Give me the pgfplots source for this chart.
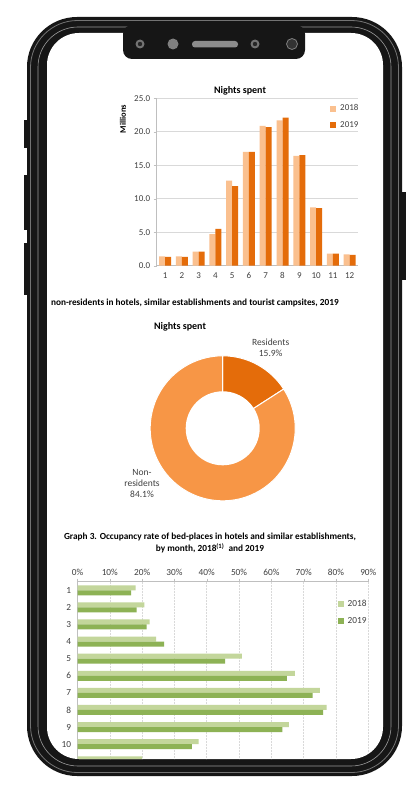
\documentclass[border=0pt]{standalone}
\usepackage{fontspec}
\setmainfont{Carlito}
\usepackage{pgfplots}
\usepackage{pgfplotstable}
\pgfplotsset{compat=1.18}
\definecolor{o18}{HTML}{FAC08F}
\definecolor{o19}{HTML}{E46C0A}
\definecolor{nonres}{HTML}{F79646}
\definecolor{g18}{HTML}{C3D69B}
\definecolor{g19}{HTML}{8DB255}
\definecolor{gridc}{HTML}{D9D9D9}
\definecolor{axc}{HTML}{BFBFBF}
\definecolor{txt}{HTML}{404040}
\definecolor{body}{HTML}{161616}
\pgfplotsset{sqleg/.style={legend image code/.code={\fill[##1] (0pt,-3pt) rectangle (6pt,3pt);}}}

\pgfplotstableread{
m a b
1 1.4 1.3
2 1.4 1.3
3 2.1 2.1
4 4.7 5.5
5 12.7 11.9
6 17.0 17.0
7 20.9 20.7
8 21.7 22.1
9 16.4 16.5
10 8.7 8.6
11 1.8 1.8
12 1.7 1.6
}\nights

\pgfplotstableread{
m a b
1 18.0 16.6
2 20.7 18.3
3 22.3 21.4
4 24.3 26.8
5 50.9 45.7
6 67.3 64.8
7 75.0 72.8
8 77.1 76.0
9 65.4 63.4
10 37.5 35.4
11 20.0 18.5
12 17.5 16.0
}\occ

\def\res{15.9}

\begin{document}
\begin{tikzpicture}[x=1pt,y=1pt]
\useasboundingbox (0,0) rectangle (418,-800);
\fill[white] (0,0) rectangle (418,-800);
% side buttons
\fill[body] (23.5,-120) rectangle (29,-148);
\fill[body] (23.5,-175) rectangle (29,-230);
\fill[body] (23.5,-243) rectangle (29,-295);
\fill[body] (400,-192) rectangle (405.5,-280);
% phone body
\fill[body, rounded corners=50pt] (27,-17) rectangle (402,-776);
\draw[black!55, line width=0.8pt, rounded corners=47pt] (30.5,-20.5) rectangle (398.5,-772.5);
\draw[black!40, line width=0.6pt, rounded corners=40pt] (38,-27) rectangle (391,-766);
\fill[white, rounded corners=32pt] (47,-33) rectangle (383,-759);

% ---------- Chart 1 ----------
\node[font=\bfseries\fontsize{10}{12}\selectfont] at (240,-90.7) {Nights spent};
\node[rotate=90, font=\bfseries\fontsize{8.5}{10}\selectfont] at (123,-119) {Millions};
\begin{axis}[
  at={(156.7pt,-265.7pt)}, anchor=south west, scale only axis,
  width=201.3pt, height=167.4pt,
  xmin=0.5, xmax=12.5, ymin=0, ymax=25,
  ybar=0pt, bar width=6pt,
  xtick={1,...,12}, ytick={0,5,...,25},
  /pgf/number format/assume math mode=true,
  yticklabel style={/pgf/number format/.cd, fixed, fixed zerofill, precision=1},
  ymajorgrids, grid style={gridc, line width=0.6pt},
  axis x line*=bottom, axis y line*=left,
  axis line style={axc, line width=0.6pt},
  xtick style={draw=none}, ytick style={axc}, tick align=outside, major tick length=3pt,
  tick label style={txt, font=\fontsize{9}{10}\selectfont},
  legend style={at={(axis description cs:0.861,0.975)}, anchor=north west, draw=none, fill=none,
    inner sep=0pt, row sep=5pt, font=\fontsize{9}{10}\selectfont, text=txt},
  legend cell align=left,
  every axis legend/.append style={/tikz/every odd column/.append style={column sep=2pt}},
]
\addplot[fill=o18, draw=none, sqleg] table[x=m,y=a]{\nights};
\addplot[fill=o19, draw=none, sqleg] table[x=m,y=b]{\nights};
\legend{2018,2019}
\end{axis}

% ---------- Chart 2 ----------
\node[anchor=west, font=\bfseries\fontsize{9.3}{11}\selectfont] at (47.5,-303) {non-residents in hotels, similar establishments and tourist campsites, 2019};
\node[font=\bfseries\fontsize{10}{12}\selectfont] at (180,-326.7) {Nights spent};
\begin{axis}[
  at={(222.7pt,-428.3pt)}, anchor=center, scale only axis,
  width=145pt, height=145pt, xmin=-1, xmax=1, ymin=-1, ymax=1,
  hide axis, clip=false]
\fill[o19, draw=white, line width=1pt] (axis cs:0,0) -- ++(90:72.5pt) arc[start angle=90, end angle={90-3.6*\res}, radius=72.5pt] -- cycle;
\fill[nonres, draw=white, line width=1pt] (axis cs:0,0) -- ++({90-3.6*\res}:72.5pt) arc[start angle={90-3.6*\res}, end angle=-270, radius=72.5pt] -- cycle;
\fill[white] (axis cs:0,0) circle[radius=37pt];
\end{axis}
\node[align=center, text=txt, font=\fontsize{9.5}{10.7}\selectfont] at (270.7,-348) {Residents\\15.9\%};
\node[align=center, text=txt, font=\fontsize{9.5}{10.7}\selectfont] at (142,-483.3) {Non-\\residents\\84.1\%};

% ---------- Chart 3 ----------
\node[align=center, font=\bfseries\fontsize{9.3}{12}\selectfont] at (210,-543.3) {Graph 3. Occupancy rate of bed-places in hotels and similar establishments,\\by month, 2018\textsuperscript{(1)}\ \ and 2019};
\begin{scope}
\clip[rounded corners=32pt] (47,-33) rectangle (383,-759);
\begin{axis}[
  at={(77.5pt,-581.7pt)}, anchor=north west, scale only axis,
  width=290.8pt, height=205.2pt,
  xmin=0, xmax=90, ymin=0.5, ymax=12.5, y dir=reverse,
  xbar=0pt, bar width=5pt,
  axis x line*=top, axis y line*=left,
  xtick={0,10,...,90}, ytick={1,...,12},
  /pgf/number format/assume math mode=true,
  xticklabel={\pgfmathprintnumber{\tick}\%},
  xmajorgrids, grid style={gridc, line width=0.6pt, dash pattern=on 2pt off 1pt},
  axis line style={axc, line width=0.6pt},
  ytick style={draw=none}, xtick style={axc}, tick align=outside, major tick length=3pt,
  tick label style={txt, font=\fontsize{9.3}{10}\selectfont},
  legend style={at={(axis description cs:0.894,0.921)}, anchor=north west, draw=none, fill=none,
    inner sep=0pt, row sep=5pt, font=\fontsize{9.3}{10}\selectfont, text=txt},
  legend cell align=left,
  every axis legend/.append style={/tikz/every odd column/.append style={column sep=2pt}},
]
\addplot[fill=g18, draw=none, bar shift=2.5pt, sqleg] table[x=a,y=m]{\occ};
\addplot[fill=g19, draw=none, bar shift=-2.5pt, sqleg] table[x=b,y=m]{\occ};
\legend{2018,2019}
\end{axis}
\end{scope}

% notch and cameras
\fill[body, rounded corners=9pt] (123,-25) -- (123,-59) -- (305,-59) -- (305,-25) -- cycle;
\fill[black!55] (140,-44) circle[radius=4.5pt];
\fill[black!85] (140,-44) circle[radius=2.2pt];
\fill[black!50] (173,-44) circle[radius=5.5pt];
\fill[black!45, rounded corners=3pt] (192,-41) rectangle (238,-47.5);
\fill[black!55] (255,-44) circle[radius=4.5pt];
\fill[black!85] (255,-44) circle[radius=2.2pt];
\fill[black!80] (292,-44) circle[radius=5.5pt];
\draw[black!50, line width=0.8pt] (292,-44) circle[radius=5.5pt];
\end{tikzpicture}
\end{document}
